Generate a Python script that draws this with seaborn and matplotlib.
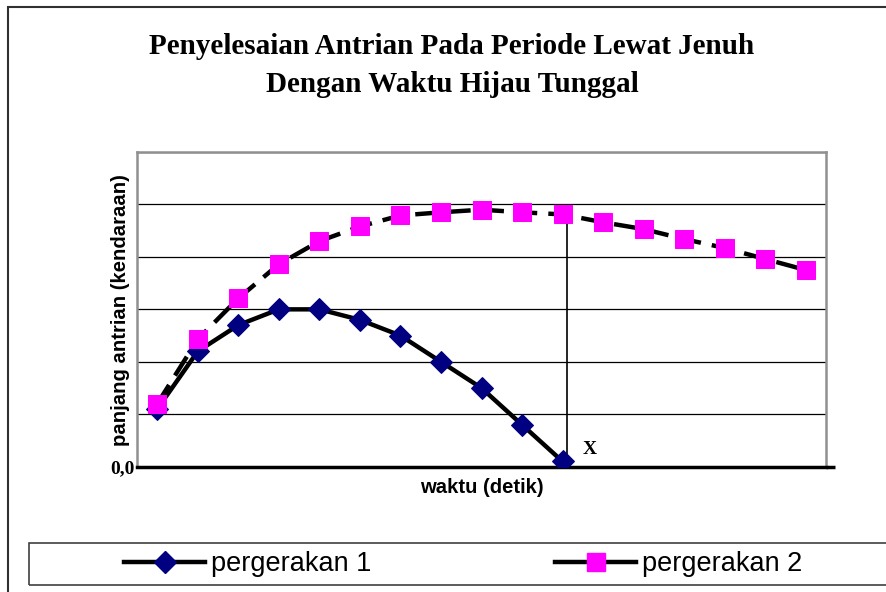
import matplotlib.pyplot as plt
import seaborn as sns
from matplotlib.patches import Rectangle
from matplotlib.lines import Line2D

# data (y in gridline units)
waktu1 = list(range(11))
gerak1 = [1.1, 2.2, 2.7, 3.0, 3.0, 2.8, 2.5, 2.0, 1.5, 0.8, 0.1]
waktu2 = list(range(17))
gerak2 = [1.2, 2.43, 3.21, 3.86, 4.3, 4.58, 4.79, 4.85, 4.9, 4.85, 4.81,
          4.66, 4.53, 4.34, 4.17, 3.96, 3.75]
titik_x = 10.1
titik_y = 4.98
nama = ["pergerakan 1", "pergerakan 2"]

W, H = 886, 592
fig = plt.figure(figsize=(W / 100, H / 100), dpi=100)
ax = fig.add_axes([137 / W, 1 - 466.7 / H, (826 - 137) / W, (466.7 - 152) / H])

# series 1: solid line, navy diamonds
sns.lineplot(x=waktu1, y=gerak1, ax=ax, color="black", lw=3.2,
             marker="D", markersize=11, markerfacecolor="#000080",
             markeredgecolor="#000080", zorder=4)
# series 2: dashed line, magenta squares
sns.lineplot(x=waktu2, y=gerak2, ax=ax, color="black", lw=3.2,
             linestyle=(0, (5, 2.5)), marker="s", markersize=13.5,
             markerfacecolor="#FF00FF", markeredgecolor="#FF00FF", zorder=5)

# vertical marker line at the end of the queue
ax.plot([titik_x, titik_x], [0, titik_y], color="black", lw=1.2, zorder=3)
ax.text(10.68, 0.32, "X", family="Liberation Serif", weight="bold",
        fontsize=14, ha="center", va="center")

ax.set_xlim(-0.5, 16.5)
ax.set_ylim(0, 6)
ax.set_xticks([])
ax.set_yticks(range(7))
ax.set_yticklabels(["0,0"] + [""] * 6, family="Liberation Serif",
                   weight="bold", fontsize=14)
ax.tick_params(axis="y", length=0, pad=2)
ax.grid(axis="y", color="black", lw=0.9)
ax.set_axisbelow(True)
for s in ["top", "right", "left"]:
    ax.spines[s].set_color("#909090")
    ax.spines[s].set_linewidth(1.8)
ax.spines["bottom"].set_color("black")
ax.spines["bottom"].set_linewidth(2.5)
# x axis line runs a little past the plot area
ax.plot([1, 1.013], [0, 0], transform=ax.transAxes, color="black", lw=2.5,
        clip_on=False, solid_capstyle="butt")

ax.set_xlabel("waktu (detik)", family="Liberation Sans", weight="bold",
              fontsize=14.6, labelpad=8)
ax.set_ylabel("panjang antrian (kendaraan)", family="Liberation Sans",
              weight="bold", fontsize=14.6, va="center")
ax.yaxis.set_label_coords((121 - 137) / 689, (466.7 - 310) / 314.7)

# titles
fig.text(452 / W, 1 - 47 / H, "Penyelesaian Antrian Pada Periode Lewat Jenuh",
         family="Liberation Serif", weight="bold", fontsize=21,
         ha="center", va="center")
fig.text(452 / W, 1 - 84 / H, "Dengan Waktu Hijau Tunggal",
         family="Liberation Serif", weight="bold", fontsize=21,
         ha="center", va="center")

# outer chart frame and legend box
fig.patches.append(Rectangle((8 / W, -0.1), 2, 1 - 7 / H + 0.1,
                             transform=fig.transFigure, fill=False,
                             edgecolor="#303030", lw=1.5))
fig.patches.append(Rectangle((29 / W, 1 - 585 / H), 2, 42 / H,
                             transform=fig.transFigure, fill=False,
                             edgecolor="#404040", lw=1.2))

handles = [
    Line2D([], [], color="black", lw=3.2, marker="D", markersize=11,
           markerfacecolor="#000080", markeredgecolor="#000080"),
    Line2D([], [], color="black", lw=3.2, marker="s", markersize=13.5,
           markerfacecolor="#FF00FF", markeredgecolor="#FF00FF"),
]
fig.legend(handles, nama, loc="center", bbox_to_anchor=(463 / W, 1 - 564 / H),
           ncol=2, frameon=False, prop={"family": "Liberation Sans", "size": 19.5},
           handlelength=3.0, handletextpad=0.2, columnspacing=6.8)

fig.savefig("out.png", dpi=100)
